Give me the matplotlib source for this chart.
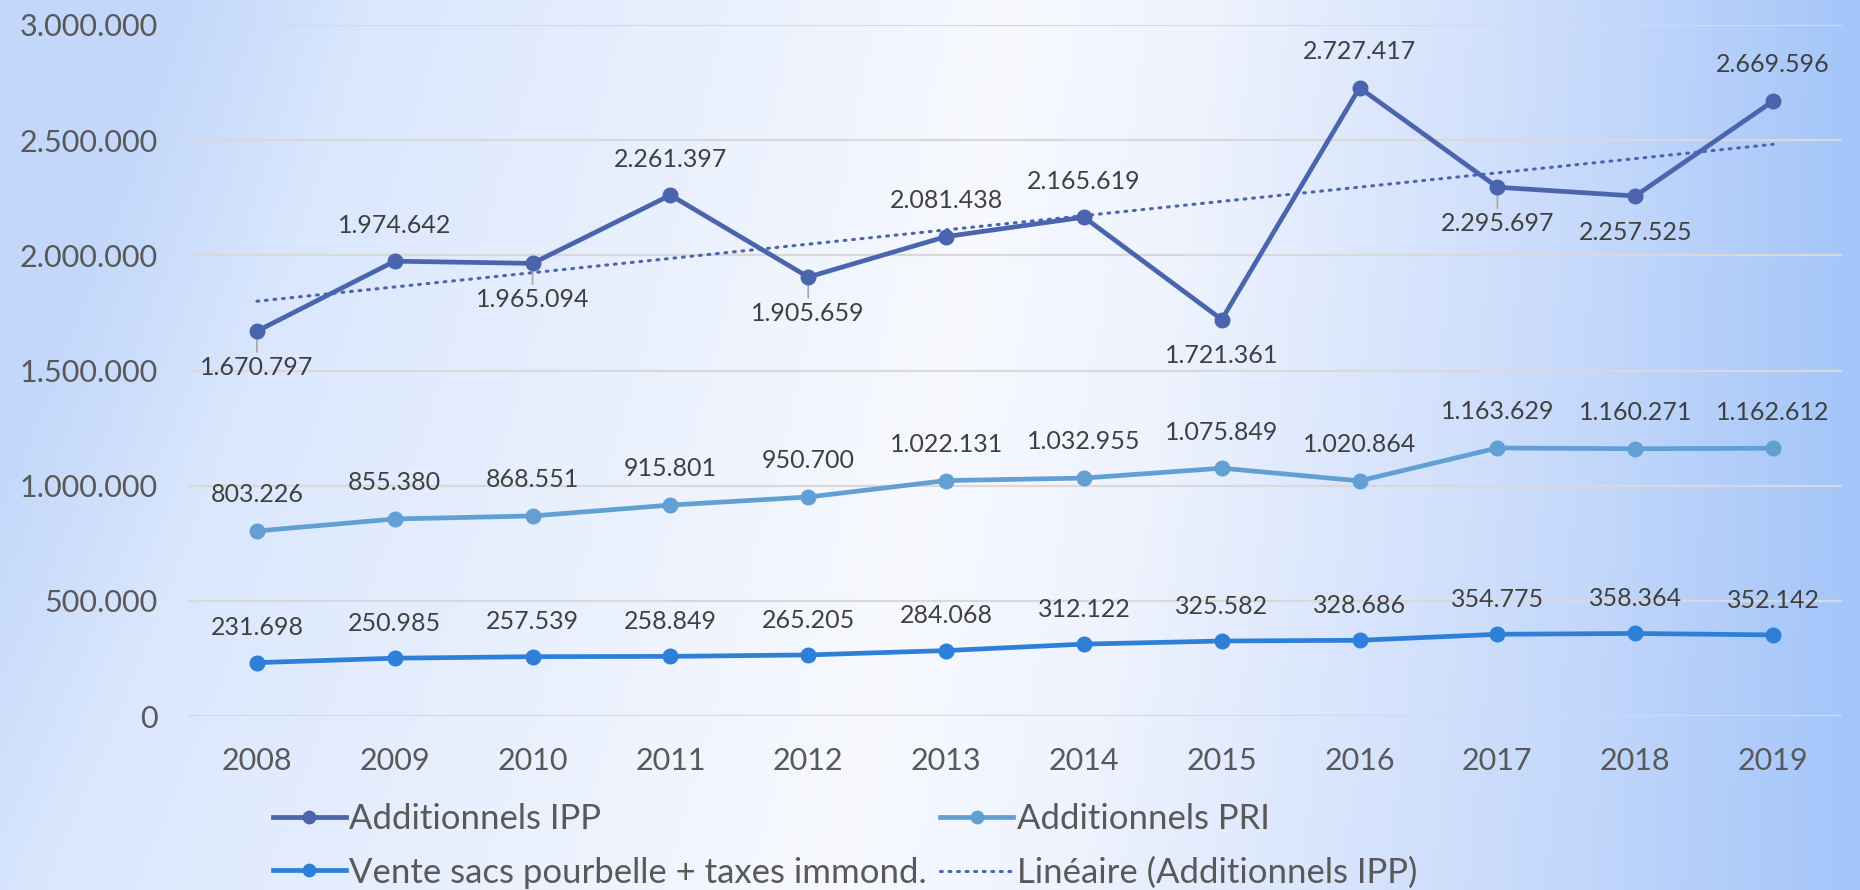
import numpy as np
import matplotlib.pyplot as plt
from matplotlib.colors import LinearSegmentedColormap
from matplotlib.ticker import FuncFormatter

plt.rcParams['font.family'] = ['Lato', 'DejaVu Sans']

# Données
years = ["2008", "2009", "2010", "2011", "2012", "2013",
         "2014", "2015", "2016", "2017", "2018", "2019"]
ipp = [1670797, 1974642, 1965094, 2261397, 1905659, 2081438,
       2165619, 1721361, 2727417, 2295697, 2257525, 2669596]
pri = [803226, 855380, 868551, 915801, 950700, 1022131,
       1032955, 1075849, 1020864, 1163629, 1160271, 1162612]
vente = [231698, 250985, 257539, 258849, 265205, 284068,
         312122, 325582, 328686, 354775, 358364, 352142]
# position des étiquettes IPP (1 = au-dessus, -1 = en dessous)
ipp_pos = [-1, 1, -1, 1, -1, 1, 1, -1, 1, -1, -1, 1]
ipp_leader = [True, False, True, False, True, False, False, False, False, True, False, False]

c_ipp = "#4A65AD"
c_pri = "#62A0D4"
c_vente = "#2E7FD8"
c_text = "#404040"
c_tick = "#595959"


def fmt(v, pos=None):
    return "{:,.0f}".format(v).replace(",", ".")


fig = plt.figure(figsize=(18.6, 8.9), dpi=100)

# fond dégradé
bg = fig.add_axes([0, 0, 1, 1], zorder=-10)
cmap = LinearSegmentedColormap.from_list(
    "bg", [(0.0, "#C2D7FA"), (0.12, "#DAE7FD"), (0.5, "#F7F9FE"),
           (0.62, "#EEF3FE"), (0.85, "#C6D9FB"), (1.0, "#A3C5F9")])
gx = np.linspace(0, 1, 400)
gy = np.linspace(0, 1, 200)
GX, GY = np.meshgrid(gx, gy)
grad = np.clip(GX + 0.10 * (GY - 0.5) * (1 - GX) * 2, 0, 1)
bg.imshow(grad, cmap=cmap, aspect="auto", extent=[0, 1, 0, 1], origin="upper")
bg.axis("off")

ax = fig.add_axes([188 / 1860, 1 - 716 / 890, (1842 - 188) / 1860, (716 - 25) / 890])
ax.patch.set_alpha(0)
x = np.arange(len(years))

l1, = ax.plot(x, ipp, color=c_ipp, lw=3.4, marker="o", ms=10.5, label="Additionnels IPP", zorder=4)
l2, = ax.plot(x, pri, color=c_pri, lw=3.4, marker="o", ms=10.5, label="Additionnels PRI", zorder=3)
l3, = ax.plot(x, vente, color=c_vente, lw=3.4, marker="o", ms=10.5,
              label="Vente sacs pourbelle + taxes immond.", zorder=3)

# tendance linéaire (Additionnels IPP)
coef = np.polyfit(x, ipp, 1)
l4, = ax.plot(x, np.polyval(coef, x), color=c_ipp, lw=2.2, ls=(0, (0.6, 2.2)),
              dash_capstyle="round", label="Linéaire (Additionnels IPP)", zorder=2)

for xi, v, p, lead in zip(x, ipp, ipp_pos, ipp_leader):
    ax.annotate(fmt(v), (xi, v), xytext=(0, 26 * p), textcoords="offset points",
                ha="center", va="center", fontsize=18, color=c_text, zorder=5)
    if lead:
        ax.annotate("", (xi, v), xytext=(0, -15), textcoords="offset points",
                    arrowprops=dict(arrowstyle="-", color="#A6A6A6", lw=1.2,
                                    shrinkA=0, shrinkB=4))
for xi, v in zip(x, pri):
    ax.annotate(fmt(v), (xi, v), xytext=(0, 26), textcoords="offset points",
                ha="center", va="center", fontsize=18, color=c_text)
for xi, v in zip(x, vente):
    ax.annotate(fmt(v), (xi, v), xytext=(0, 25), textcoords="offset points",
                ha="center", va="center", fontsize=18, color=c_text)

ax.set_xlim(-0.5, len(years) - 0.5)
ax.set_ylim(0, 3000000)
ax.set_yticks(np.arange(0, 3000001, 500000))
ax.yaxis.set_major_formatter(FuncFormatter(fmt))
ax.set_xticks(x)
ax.set_xticklabels(years)
ax.tick_params(axis="both", length=0, labelsize=22, colors=c_tick)
ax.tick_params(axis="x", pad=22)
ax.tick_params(axis="y", pad=22)
ax.grid(axis="y", color="#D9D9D9", lw=1.6)
ax.set_axisbelow(True)
for s in ax.spines.values():
    s.set_visible(False)

fig.legend([l1, l3, l2, l4],
           [l1.get_label(), l3.get_label(), l2.get_label(), l4.get_label()],
           ncol=2, loc="upper left", bbox_to_anchor=(273 / 1860, 1 - 803 / 890),
           frameon=False, fontsize=25, labelcolor=c_tick, handlelength=2.1,
           handletextpad=0.1, columnspacing=0.38, labelspacing=0.62, borderpad=0,
           borderaxespad=0, markerscale=0.85)

plt.savefig("out.png", dpi=100)
